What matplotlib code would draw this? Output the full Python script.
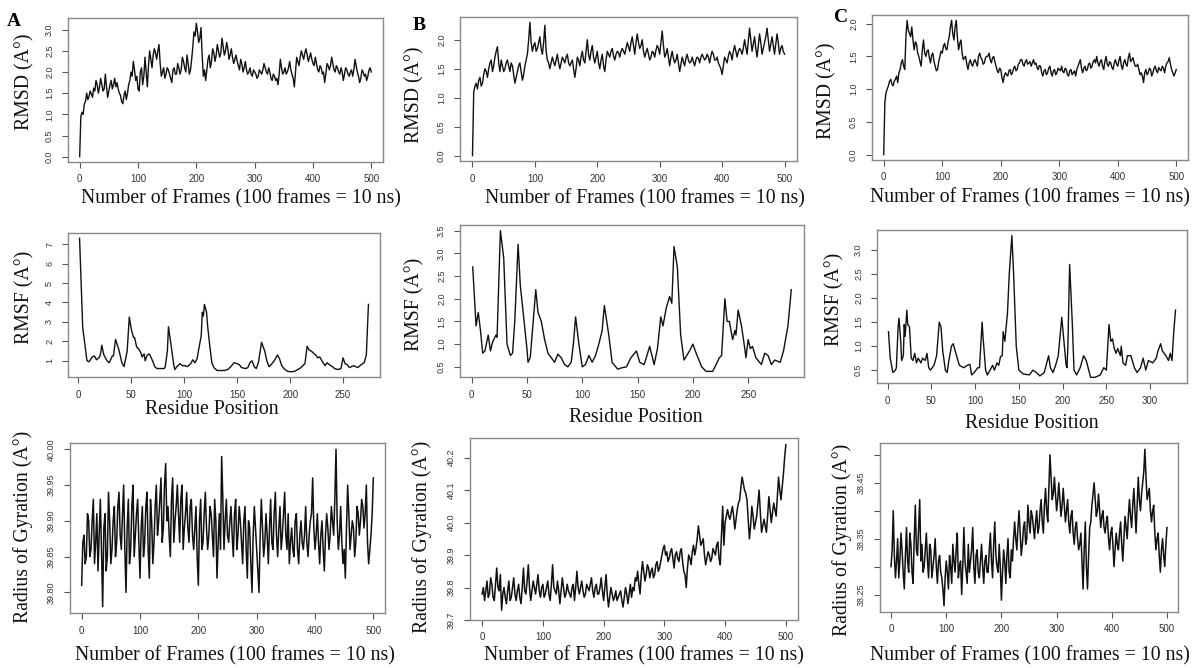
import numpy as np
import matplotlib
matplotlib.use("Agg")
import matplotlib.pyplot as plt

W, H = 1195, 668

# RMSD (A): values at frames 0, 4, ..., 500 and in-between values at frames 2, 6, ..., 498
rmsd_a = [0.00, 1.05, 1.25, 1.50, 1.42, 1.48, 1.62, 1.80, 1.50, 1.85, 1.55, 1.95, 1.40, 1.70, 1.60, 1.85,
          1.75, 1.50, 1.30, 1.45, 1.35, 1.70, 2.00, 2.25, 1.80, 1.60, 2.00, 1.70, 2.35, 1.65, 2.50, 2.10,
          2.55, 2.30, 2.65, 1.90, 2.10, 1.95, 2.05, 1.85, 2.05, 1.95, 2.20, 1.95, 2.35, 2.10, 2.40, 1.95,
          2.30, 2.95, 3.15, 2.70, 3.05, 1.90, 1.80, 2.30, 2.10, 2.55, 2.25, 2.65, 2.35, 2.80, 2.40, 2.70,
          2.30, 2.55, 2.20, 2.40, 2.15, 2.30, 2.00, 2.25, 1.95, 2.10, 1.90, 2.00, 1.85, 2.05, 1.95, 2.20,
          2.00, 2.10, 1.85, 1.95, 1.80, 1.70, 2.30, 1.95, 2.10, 2.00, 2.25, 1.95, 1.65, 2.35, 2.15, 2.50,
          2.30, 2.55, 2.25, 2.45, 2.20, 2.35, 2.05, 2.15, 1.95, 1.75, 2.20, 2.05, 2.35, 2.05, 2.15, 2.00,
          2.10, 1.80, 2.10, 1.95, 2.00, 1.90, 2.30, 2.00, 1.75, 2.05, 1.90, 1.80, 2.05, 2.00]
rmsd_a_mid = [0.95, 1.00, 1.30, 1.35, 1.55, 1.40, 1.55, 1.70, 1.65, 1.70, 1.60, 1.65, 1.55, 1.80, 1.70, 1.65,
              1.60, 1.45, 1.25, 1.55, 1.50, 1.80, 1.90, 2.05, 1.90, 1.55, 2.10, 1.90, 2.00, 2.15, 2.30, 2.40,
              2.45, 2.50, 2.20, 2.00, 1.85, 2.10, 1.95, 1.75, 2.10, 1.95, 2.10, 2.05, 2.25, 2.00, 2.20, 2.05,
              2.60, 2.85, 2.95, 2.80, 2.40, 2.05, 2.05, 2.40, 2.25, 2.45, 2.40, 2.50, 2.45, 2.60, 2.50, 2.55,
              2.40, 2.35, 2.30, 2.25, 2.05, 2.20, 2.10, 2.05, 2.00, 1.95, 2.05, 1.95, 1.90, 2.00, 2.05, 2.10,
              1.95, 2.00, 1.80, 1.90, 1.85, 1.95, 2.10, 2.00, 1.95, 2.10, 2.05, 1.85, 2.00, 2.25, 2.35, 2.40,
              2.45, 2.40, 2.35, 2.30, 2.15, 2.20, 2.00, 2.10, 2.00, 1.95, 2.15, 2.15, 2.20, 2.00, 2.10, 1.95,
              2.00, 1.95, 2.05, 1.90, 2.05, 2.05, 2.15, 1.90, 1.85, 2.00, 1.95, 1.90, 2.10]
rmsd_b = [0.00, 1.20, 1.15, 1.35, 1.25, 1.50, 1.35, 1.60, 1.45, 1.70, 1.88, 1.45, 1.55, 1.50, 1.65, 1.45,
          1.55, 1.25, 1.45, 1.60, 1.30, 1.55, 1.75, 2.30, 1.80, 1.95, 1.85, 2.05, 1.75, 2.25, 1.65, 1.50,
          1.70, 1.55, 1.75, 1.50, 1.70, 1.60, 1.75, 1.55, 1.65, 1.35, 1.70, 1.55, 1.80, 1.60, 2.00, 1.65,
          1.90, 1.60, 1.80, 1.50, 1.75, 1.45, 1.80, 1.70, 1.85, 1.65, 1.80, 1.70, 1.85, 1.75, 1.95, 1.80,
          2.05, 1.75, 2.10, 1.85, 2.00, 1.70, 1.85, 1.65, 1.80, 1.70, 1.90, 1.75, 2.15, 1.70, 1.85, 1.55,
          1.80, 1.60, 1.75, 1.45, 1.70, 1.55, 1.75, 1.60, 1.70, 1.55, 1.70, 1.60, 1.75, 1.65, 1.75, 1.60,
          1.80, 1.65, 1.70, 1.55, 1.40, 1.70, 1.60, 1.80, 1.65, 1.90, 1.70, 1.85, 1.75, 2.00, 1.75, 2.20,
          1.80, 2.05, 1.70, 2.10, 1.75, 1.95, 2.20, 1.80, 2.05, 1.75, 2.10, 1.75, 1.90, 1.75]
rmsd_b_mid = [1.10, 1.25, 1.30, 1.20, 1.40, 1.45, 1.50, 1.65, 1.55, 1.80, 1.60, 1.65, 1.45, 1.60, 1.55, 1.60,
              1.40, 1.35, 1.55, 1.45, 1.40, 1.65, 2.00, 1.95, 1.90, 1.80, 1.95, 1.85, 1.95, 1.80, 1.60, 1.60,
              1.62, 1.65, 1.60, 1.60, 1.65, 1.70, 1.60, 1.60, 1.50, 1.50, 1.65, 1.70, 1.65, 1.80, 1.75, 1.80,
              1.70, 1.70, 1.60, 1.65, 1.55, 1.65, 1.75, 1.80, 1.72, 1.75, 1.78, 1.80, 1.80, 1.85, 1.88, 1.95,
              1.90, 1.95, 1.95, 1.90, 1.80, 1.78, 1.75, 1.70, 1.78, 1.82, 1.85, 1.95, 1.90, 1.75, 1.70, 1.70,
              1.68, 1.65, 1.60, 1.58, 1.62, 1.68, 1.65, 1.62, 1.62, 1.65, 1.68, 1.70, 1.70, 1.68, 1.70, 1.72,
              1.75, 1.65, 1.60, 1.50, 1.55, 1.65, 1.72, 1.75, 1.80, 1.80, 1.80, 1.82, 1.85, 1.88, 1.98, 2.00,
              1.92, 1.85, 1.90, 1.95, 1.85, 2.05, 2.00, 1.92, 1.90, 1.92, 1.95, 1.85, 1.80]
rmsd_c = [0.00, 0.95, 1.05, 1.15, 1.05, 1.15, 1.10, 1.30, 1.45, 1.30, 2.05, 1.85, 1.95, 1.60, 1.70, 1.50,
          1.35, 1.75, 1.50, 1.60, 1.40, 1.55, 1.35, 1.30, 1.50, 1.55, 1.70, 1.60, 1.80, 2.05, 1.75, 2.05,
          1.60, 1.75, 1.45, 1.50, 1.30, 1.45, 1.35, 1.45, 1.35, 1.55, 1.45, 1.40, 1.50, 1.55, 1.40, 1.50,
          1.35, 1.25, 1.30, 1.10, 1.25, 1.20, 1.30, 1.25, 1.35, 1.30, 1.40, 1.45, 1.35, 1.45, 1.40, 1.35,
          1.45, 1.40, 1.30, 1.35, 1.20, 1.30, 1.25, 1.35, 1.20, 1.30, 1.25, 1.30, 1.35, 1.25, 1.30, 1.20,
          1.30, 1.25, 1.20, 1.35, 1.45, 1.25, 1.35, 1.30, 1.40, 1.35, 1.45, 1.50, 1.35, 1.45, 1.30, 1.50,
          1.35, 1.40, 1.30, 1.45, 1.35, 1.50, 1.30, 1.45, 1.35, 1.55, 1.45, 1.40, 1.35, 1.30, 1.25, 1.10,
          1.30, 1.25, 1.30, 1.25, 1.35, 1.25, 1.30, 1.35, 1.25, 1.40, 1.48, 1.30, 1.20, 1.30]
rmsd_c_mid = [0.80, 1.00, 1.12, 1.08, 1.12, 1.20, 1.25, 1.40, 1.35, 1.80, 1.90, 1.80, 1.75, 1.72, 1.55, 1.42,
              1.60, 1.55, 1.58, 1.48, 1.52, 1.42, 1.28, 1.42, 1.58, 1.65, 1.62, 1.72, 1.95, 1.85, 1.95, 1.78,
              1.70, 1.55, 1.48, 1.38, 1.40, 1.38, 1.42, 1.40, 1.50, 1.48, 1.38, 1.48, 1.50, 1.45, 1.48, 1.42,
              1.28, 1.32, 1.18, 1.20, 1.22, 1.28, 1.22, 1.32, 1.28, 1.38, 1.45, 1.38, 1.42, 1.38, 1.42, 1.40,
              1.38, 1.33, 1.36, 1.25, 1.28, 1.22, 1.32, 1.25, 1.28, 1.22, 1.32, 1.28, 1.27, 1.32, 1.22, 1.28,
              1.22, 1.28, 1.30, 1.40, 1.32, 1.32, 1.28, 1.38, 1.32, 1.42, 1.40, 1.40, 1.42, 1.35, 1.42, 1.38,
              1.42, 1.33, 1.40, 1.38, 1.44, 1.36, 1.40, 1.38, 1.48, 1.42, 1.48, 1.35, 1.38, 1.22, 1.20, 1.25,
              1.22, 1.32, 1.20, 1.32, 1.28, 1.33, 1.28, 1.32, 1.35, 1.42, 1.38, 1.25, 1.25]

# RMSF (A) per residue
res_a = [1, 4, 8, 10, 13, 15, 17, 20, 21, 22, 24, 27, 29, 32, 33, 35, 38, 41, 43, 46,
         48, 50, 52, 53, 55, 57, 59, 60, 62, 63, 65, 67, 70, 72, 74, 78, 81, 82, 84, 85,
         88, 90, 91, 93, 96, 98, 101, 103, 106, 108, 110, 112, 114, 116, 117, 118, 119, 121, 122, 124,
         126, 128, 131, 135, 138, 141, 144, 147, 150, 152, 154, 158, 160, 162, 164, 166, 168, 170, 172, 173,
         176, 178, 180, 182, 185, 188, 190, 192, 195, 198, 201, 204, 209, 212, 214, 216, 218, 220, 222, 225,
         226, 228, 230, 233, 235, 237, 240, 242, 245, 248, 250, 252, 254, 256, 260, 264, 267, 270, 272, 274]
rmsf_a = [7.3, 2.7, 1.0, 0.95, 1.2, 1.25, 1.05, 1.2, 1.4, 1.8, 1.3, 1.0, 0.9, 1.25, 1.25, 2.1, 1.6, 0.9, 0.7, 1.5,
          3.25, 2.6, 2.2, 2.2, 1.7, 1.6, 1.4, 1.2, 1.35, 1.0, 1.3, 1.35, 1.0, 0.7, 0.6, 0.6, 0.6, 0.7, 1.5, 2.75,
          1.6, 0.8, 0.55, 0.7, 0.85, 0.75, 0.75, 0.7, 0.85, 1.05, 0.9, 1.1, 1.7, 2.3, 3.5, 3.3, 3.9, 3.5, 2.8, 1.8,
          0.9, 0.65, 0.5, 0.5, 0.5, 0.55, 0.7, 0.9, 0.85, 0.8, 0.65, 0.6, 0.65, 0.9, 1.0, 0.7, 0.6, 0.9, 1.6, 1.95,
          1.5, 1.0, 0.7, 0.8, 1.0, 1.3, 1.1, 0.75, 0.55, 0.45, 0.44, 0.45, 0.6, 0.75, 0.85, 1.75, 1.55, 1.5, 1.4, 1.25,
          1.15, 1.2, 1.0, 0.75, 0.9, 0.8, 0.7, 0.6, 0.55, 0.6, 1.15, 0.85, 0.8, 0.65, 0.75, 0.65, 0.8, 0.9, 1.3, 3.9]
res_b = [1, 4, 6, 8, 10, 12, 15, 17, 19, 22, 23, 26, 29, 32, 35, 37, 39, 42, 44, 47,
         50, 51, 53, 56, 58, 60, 63, 66, 69, 72, 75, 78, 81, 84, 87, 90, 92, 94, 97, 100,
         103, 106, 109, 112, 115, 118, 120, 124, 127, 132, 136, 140, 144, 149, 152, 156, 161, 165, 168, 171,
         173, 176, 179, 181, 183, 186, 189, 192, 197, 200, 203, 208, 212, 218, 221, 224, 226, 229, 231, 233,
         236, 238, 239, 241, 244, 247, 248, 250, 252, 254, 257, 262, 265, 268, 271, 274, 279, 282, 286, 289]
rmsf_b = [2.7, 1.4, 1.7, 1.3, 0.8, 0.85, 1.2, 0.85, 1.05, 1.2, 1.15, 3.5, 2.9, 1.0, 0.75, 0.8, 1.5, 3.2, 2.3, 1.6,
          0.9, 0.6, 0.7, 1.6, 2.2, 1.7, 1.5, 1.1, 0.8, 0.7, 0.6, 0.78, 0.7, 0.55, 0.5, 0.6, 1.0, 1.6, 1.0, 0.5,
          0.55, 0.75, 0.6, 0.75, 1.0, 1.3, 1.85, 1.2, 0.6, 0.45, 0.48, 0.5, 0.7, 0.85, 0.6, 0.55, 0.95, 0.55, 0.9, 1.6,
          1.4, 1.8, 2.05, 1.9, 3.15, 2.7, 1.2, 0.65, 0.85, 1.0, 0.8, 0.5, 0.4, 0.4, 0.55, 0.7, 0.75, 2.0, 1.5, 1.5,
          1.1, 1.3, 1.2, 1.75, 1.4, 0.9, 0.7, 1.1, 0.9, 0.95, 0.7, 0.55, 0.8, 0.75, 0.55, 0.65, 0.6, 0.85, 1.4, 2.2]
res_c = [1, 3, 6, 9, 10, 12, 13, 15, 16, 18, 19, 20, 22, 23, 25, 27, 29, 31, 33, 35,
         38, 40, 43, 45, 47, 49, 53, 56, 59, 61, 63, 66, 68, 70, 73, 75, 78, 82, 87, 91,
         94, 96, 99, 103, 105, 108, 109, 112, 114, 117, 120, 122, 125, 127, 129, 131, 132, 134, 137, 139,
         142, 144, 147, 150, 155, 162, 166, 170, 174, 179, 184, 186, 189, 192, 195, 199, 201, 204, 205, 206,
         208, 211, 213, 216, 220, 224, 227, 232, 237, 243, 247, 250, 253, 255, 257, 259, 261, 263, 266, 267,
         269, 272, 274, 278, 282, 285, 289, 292, 295, 298, 303, 307, 309, 312, 314, 318, 321, 323, 325, 327, 329]
rmsf_c = [1.3, 0.75, 0.45, 0.5, 0.55, 1.4, 1.58, 1.1, 0.7, 0.8, 1.45, 1.2, 1.75, 1.45, 1.4, 0.75, 0.7, 0.85, 0.65, 0.75,
          0.65, 0.75, 0.7, 0.85, 0.55, 0.5, 0.6, 0.8, 1.5, 1.4, 0.9, 0.5, 0.45, 0.7, 1.0, 1.05, 0.85, 0.6, 0.55, 0.6,
          0.62, 0.4, 0.45, 0.55, 0.55, 1.5, 1.2, 0.5, 0.4, 0.5, 0.6, 0.5, 0.65, 0.6, 0.78, 0.8, 1.3, 1.1, 1.7, 2.5,
          3.3, 2.5, 1.0, 0.5, 0.42, 0.4, 0.5, 0.45, 0.38, 0.45, 0.8, 0.55, 0.45, 0.6, 0.8, 1.6, 1.2, 0.6, 0.55, 1.0,
          2.7, 1.5, 0.5, 0.4, 0.55, 0.8, 0.7, 0.35, 0.35, 0.4, 0.55, 0.5, 1.45, 1.1, 1.15, 0.95, 0.85, 0.95, 0.8, 1.0,
          0.65, 0.6, 0.8, 0.8, 0.55, 0.45, 0.55, 0.75, 0.5, 0.7, 0.65, 0.75, 0.9, 1.05, 0.9, 0.8, 0.7, 0.85, 0.7, 1.3, 1.75]

# Radius of gyration (A): frames 0, 4, ..., 500 and frames 2, 6, ..., 498
rg_a = [39.81, 39.88, 39.85, 39.90, 39.86, 39.93, 39.87, 39.83, 39.93, 39.78, 39.91, 39.85, 39.90, 39.86, 39.92, 39.87,
        39.94, 39.86, 39.95, 39.80, 39.93, 39.86, 39.95, 39.88, 39.93, 39.82, 39.92, 39.87, 39.94, 39.82, 39.90, 39.87,
        39.95, 39.90, 39.96, 39.89, 39.98, 39.92, 39.85, 39.96, 39.90, 39.95, 39.87, 39.95, 39.89, 39.94, 39.87, 39.93,
        39.86, 39.92, 39.81, 39.93, 39.87, 39.94, 39.86, 39.92, 39.88, 39.93, 39.82, 39.91, 39.99, 39.86, 39.93, 39.87,
        39.92, 39.85, 39.93, 39.88, 39.90, 39.84, 39.92, 39.82, 39.89, 39.80, 39.92, 39.86, 39.80, 39.93, 39.85, 39.91,
        39.84, 39.93, 39.86, 39.94, 39.85, 39.92, 39.88, 39.94, 39.86, 39.84, 39.89, 39.85, 39.91, 39.84, 39.90, 39.86,
        39.92, 39.85, 39.90, 39.96, 39.86, 39.91, 39.84, 39.90, 39.83, 39.91, 39.86, 39.92, 39.88, 40.00, 39.86, 39.92,
        39.84, 39.82, 39.95, 39.86, 39.90, 39.85, 39.92, 39.88, 39.93, 39.89, 39.95, 39.84, 39.88, 39.96]
rg_a_mid = [39.87, 39.84, 39.91, 39.85, 39.90, 39.84, 39.91, 39.88, 39.86, 39.89, 39.83, 39.94, 39.84, 39.90, 39.85, 39.92,
            39.88, 39.91, 39.86, 39.89, 39.84, 39.92, 39.85, 39.91, 39.87, 39.89, 39.85, 39.92, 39.86, 39.93, 39.84, 39.92,
            39.88, 39.93, 39.87, 39.95, 39.90, 39.88, 39.93, 39.87, 39.92, 39.91, 39.93, 39.86, 39.91, 39.89, 39.92, 39.88,
            39.89, 39.85, 39.90, 39.86, 39.91, 39.89, 39.88, 39.91, 39.85, 39.90, 39.87, 39.86, 39.93, 39.90, 39.88, 39.90,
            39.88, 39.91, 39.86, 39.92, 39.87, 39.90, 39.86, 39.90, 39.84, 39.88, 39.89, 39.83, 39.88, 39.89, 39.87, 39.88,
            39.89, 39.87, 39.91, 39.88, 39.89, 39.86, 39.91, 39.88, 39.91, 39.87, 39.86, 39.90, 39.86, 39.88, 39.87, 39.88,
            39.87, 39.88, 39.91, 39.89, 39.88, 39.87, 39.88, 39.86, 39.88, 39.89, 39.88, 39.90, 39.93, 39.90, 39.88, 39.87,
            39.86, 39.89, 39.91, 39.88, 39.89, 39.87, 39.91, 39.90, 39.92, 39.91, 39.87, 39.86, 39.91]
rg_b = [39.78, 39.76, 39.82, 39.78, 39.81, 39.76, 39.86, 39.79, 39.73, 39.80, 39.75, 39.82, 39.77, 39.83, 39.76, 39.81,
        39.75, 39.86, 39.78, 39.87, 39.76, 39.82, 39.78, 39.84, 39.77, 39.81, 39.78, 39.82, 39.76, 39.87, 39.79, 39.82,
        39.75, 39.83, 39.77, 39.81, 39.78, 39.80, 39.76, 39.85, 39.78, 39.82, 39.77, 39.81, 39.79, 39.83, 39.77, 39.81,
        39.78, 39.83, 39.76, 39.84, 39.74, 39.80, 39.76, 39.79, 39.77, 39.79, 39.74, 39.80, 39.75, 39.81, 39.80, 39.83,
        39.85, 39.78, 39.88, 39.82, 39.87, 39.83, 39.86, 39.84, 39.88, 39.86, 39.90, 39.93, 39.91, 39.89, 39.92, 39.86,
        39.91, 39.88, 39.92, 39.85, 39.80, 39.90, 39.87, 39.93, 39.92, 39.99, 39.93, 39.95, 39.87, 39.91, 39.88, 39.92,
        39.90, 39.94, 39.87, 40.05, 40.00, 40.04, 40.01, 40.05, 39.98, 40.04, 40.07, 40.14, 40.10, 40.07, 39.95, 40.05,
        39.98, 40.02, 40.10, 39.97, 40.01, 39.97, 40.08, 40.00, 40.06, 40.02, 40.14, 40.07, 40.15, 40.24]
rg_b_mid = [39.80, 39.79, 39.77, 39.83, 39.77, 39.81, 39.80, 39.84, 39.78, 39.77, 39.79, 39.76, 39.80, 39.78, 39.79, 39.77,
            39.80, 39.79, 39.82, 39.80, 39.79, 39.80, 39.81, 39.79, 39.80, 39.77, 39.80, 39.78, 39.81, 39.80, 39.78, 39.79,
            39.79, 39.80, 39.78, 39.79, 39.77, 39.81, 39.80, 39.80, 39.80, 39.79, 39.78, 39.80, 39.81, 39.79, 39.80, 39.78,
            39.80, 39.79, 39.80, 39.78, 39.77, 39.78, 39.77, 39.76, 39.78, 39.76, 39.77, 39.78, 39.78, 39.77, 39.79, 39.82,
            39.81, 39.84, 39.85, 39.84, 39.86, 39.85, 39.83, 39.87, 39.85, 39.88, 39.92, 39.90, 39.88, 39.91, 39.89, 39.90,
            39.89, 39.91, 39.88, 39.84, 39.86, 39.89, 39.91, 39.90, 39.95, 39.96, 39.94, 39.90, 39.89, 39.90, 39.89, 39.91,
            39.93, 39.89, 39.96, 39.93, 40.02, 40.02, 40.03, 40.02, 40.01, 40.06, 40.11, 40.12, 40.09, 40.01, 39.99, 40.02,
            40.00, 40.06, 40.03, 39.99, 39.99, 40.02, 40.04, 40.03, 40.04, 40.08, 40.10, 40.11, 40.20]
rg_c = [38.30, 38.40, 38.28, 38.35, 38.31, 38.33, 38.26, 38.37, 38.29, 38.34, 38.27, 38.41, 38.32, 38.42, 38.34, 38.30,
        38.36, 38.28, 38.33, 38.30, 38.35, 38.27, 38.32, 38.28, 38.23, 38.31, 38.26, 38.30, 38.34, 38.29, 38.36, 38.30,
        38.25, 38.37, 38.29, 38.34, 38.31, 38.37, 38.27, 38.33, 38.28, 38.34, 38.27, 38.32, 38.29, 38.36, 38.28, 38.38,
        38.30, 38.34, 38.24, 38.33, 38.27, 38.35, 38.28, 38.31, 38.38, 38.33, 38.40, 38.32, 38.37, 38.34, 38.41, 38.36,
        38.39, 38.35, 38.40, 38.37, 38.42, 38.36, 38.44, 38.38, 38.50, 38.42, 38.46, 38.40, 38.45, 38.39, 38.44, 38.38,
        38.42, 38.36, 38.40, 38.34, 38.38, 38.33, 38.36, 38.26, 38.38, 38.26, 38.37, 38.41, 38.45, 38.39, 38.43, 38.37,
        38.40, 38.36, 38.39, 38.33, 38.37, 38.30, 38.36, 38.33, 38.38, 38.31, 38.39, 38.35, 38.42, 38.37, 38.44, 38.36,
        38.46, 38.40, 38.45, 38.51, 38.42, 38.44, 38.38, 38.41, 38.33, 38.36, 38.29, 38.35, 38.30, 38.37]
rg_c_mid = [38.33, 38.32, 38.31, 38.28, 38.36, 38.29, 38.32, 38.31, 38.36, 38.29, 38.35, 38.33, 38.37, 38.31, 38.29, 38.33,
            38.31, 38.34, 38.28, 38.32, 38.30, 38.31, 38.29, 38.26, 38.28, 38.29, 38.32, 38.27, 38.31, 38.33, 38.28, 38.31,
            38.30, 38.31, 38.27, 38.29, 38.33, 38.30, 38.32, 38.29, 38.31, 38.30, 38.31, 38.29, 38.33, 38.31, 38.34, 38.32,
            38.29, 38.30, 38.29, 38.31, 38.32, 38.29, 38.33, 38.35, 38.35, 38.37, 38.36, 38.34, 38.38, 38.35, 38.38, 38.40,
            38.37, 38.38, 38.36, 38.40, 38.38, 38.41, 38.40, 38.44, 38.46, 38.43, 38.43, 38.42, 38.42, 38.41, 38.41, 38.40,
            38.38, 38.39, 38.36, 38.37, 38.35, 38.34, 38.31, 38.33, 38.30, 38.32, 38.38, 38.43, 38.42, 38.40, 38.40, 38.39,
            38.37, 38.38, 38.35, 38.36, 38.34, 38.33, 38.34, 38.36, 38.34, 38.35, 38.37, 38.39, 38.39, 38.41, 38.40, 38.41,
            38.42, 38.43, 38.47, 38.46, 38.43, 38.40, 38.40, 38.36, 38.35, 38.32, 38.33, 38.32, 38.34]

frame_ticks = [0, 100, 200, 300, 400, 500]
frames_label = "Number of Frames (100 frames = 10 ns)"
serif = "Liberation Serif"
sans = "Liberation Sans"

fig = plt.figure(figsize=(W / 100, H / 100), dpi=100)


def weave(main, mid):
    # frames 0, 2, 4, ... from the two read-off lists
    out = np.empty(len(main) + len(mid))
    out[0::2] = main
    out[1::2] = mid
    return np.linspace(0, 500, len(out)), out


def panel(box, x, y, xticks, yticks, ylabels, lw=1.0):
    x0, y0, x1, y1 = box
    ax = fig.add_axes([x0 / W, 1 - y1 / H, (x1 - x0) / W, (y1 - y0) / H])
    ax.plot(x, y, color="#111111", lw=lw)
    x = np.asarray(x, dtype=float)
    y = np.asarray(y, dtype=float)
    dx = 0.04 * (x.max() - x.min())
    dy = 0.04 * (y.max() - y.min())
    ax.set_xlim(x.min() - dx, x.max() + dx)
    ax.set_ylim(y.min() - dy, y.max() + dy)
    ax.set_xticks(xticks)
    ax.set_xticklabels([str(t) for t in xticks], fontsize=7, family=sans, color="#333333")
    ax.set_yticks(yticks)
    ax.set_yticklabels(ylabels, fontsize=6.5, family=sans, color="#333333",
                       rotation=90, va="center")
    ax.tick_params(axis="x", length=4, width=0.8, color="#555555", pad=5)
    ax.tick_params(axis="y", length=4, width=0.8, color="#555555", pad=6)
    for s in ax.spines.values():
        s.set_color("#888888")
        s.set_linewidth(1.0)
    return ax


def label(x, y, text, rotation=0):
    fig.text(x / W, 1 - y / H, text, family=serif, fontsize=14.2, rotation=rotation,
             ha="center", va="center", color="#111111")


def fmt(vals, pattern):
    return [pattern.format(v) for v in vals]


# row 1: RMSD
t = [0.0, 0.5, 1.0, 1.5, 2.0, 2.5, 3.0]
panel((68, 18, 383, 162), *weave(rmsd_a, rmsd_a_mid), frame_ticks, t, fmt(t, "{:.1f}"))
t = [0.0, 0.5, 1.0, 1.5, 2.0]
panel((460, 17, 797, 161), *weave(rmsd_b, rmsd_b_mid), frame_ticks, t, fmt(t, "{:.1f}"))
panel((872, 15, 1188, 160), *weave(rmsd_c, rmsd_c_mid), frame_ticks, t, fmt(t, "{:.1f}"))
label(241, 199, frames_label)
label(645, 199, frames_label)
label(1030, 198, frames_label)
label(25, 82, "RMSD (A°)", 90)
label(415, 95, "RMSD (A°)", 90)
label(827, 91, "RMSD (A°)", 90)

# row 2: RMSF
t = [1, 2, 3, 4, 5, 6, 7]
panel((68, 233, 380, 377), res_a, rmsf_a, [0, 50, 100, 150, 200, 250], t, fmt(t, "{:d}"))
t = [0.5, 1.0, 1.5, 2.0, 2.5, 3.0, 3.5]
panel((460, 225, 804, 377), res_b, rmsf_b, [0, 50, 100, 150, 200, 250], t, fmt(t, "{:.1f}"))
t = [0.5, 1.0, 1.5, 2.0, 2.5, 3.0]
panel((877, 230, 1187, 383), res_c, rmsf_c, [0, 50, 100, 150, 200, 250, 300], t, fmt(t, "{:.1f}"))
label(212, 410, "Residue Position")
label(636, 418, "Residue Position")
label(1032, 423, "Residue Position")
label(25, 297, "RMSF (A°)", 90)
label(415, 304, "RMSF (A°)", 90)
label(835, 299, "RMSF (A°)", 90)

# row 3: radius of gyration
t = [39.80, 39.85, 39.90, 39.95, 40.00]
panel((70, 443, 385, 613), *weave(rg_a, rg_a_mid), frame_ticks, t, fmt(t, "{:.2f}"), lw=1.1)
t = [39.7, 39.8, 39.9, 40.0, 40.1, 40.2]
panel((470, 438, 798, 620), *weave(rg_b, rg_b_mid), frame_ticks, t, fmt(t, "{:.1f}"), lw=1.1)
t = [38.25, 38.30, 38.35, 38.40, 38.45, 38.50]
panel((880, 443, 1178, 612), *weave(rg_c, rg_c_mid), frame_ticks, t,
      ["38.25", "", "38.35", "", "38.45", ""], lw=1.1)
label(235, 656, frames_label)
label(644, 656, frames_label)
label(1030, 656, frames_label)
label(23, 527, "Radius of Gyration (A°)", 90)
label(422, 537, "Radius of Gyration (A°)", 90)
label(842, 540, "Radius of Gyration (A°)", 90)

# panel letters
for x, y, s in [(14, 22, "A"), (419, 25, "B"), (841, 18, "C")]:
    fig.text(x / W, 1 - y / H, s, family=serif, fontsize=14, fontweight="bold",
             ha="center", va="center")

fig.savefig("out.png", dpi=100)
